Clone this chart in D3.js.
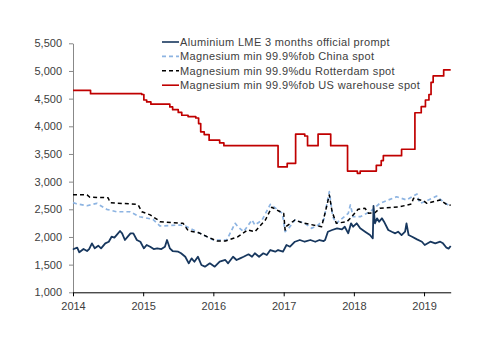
<!DOCTYPE html>
<html>
<head>
<meta charset="utf-8">
<script src="https://cdn.jsdelivr.net/npm/d3@7"></script>
<style>
  body { margin: 0; background: #fff; }
  svg text { font-family: "Liberation Sans", Arial, sans-serif; }
</style>
</head>
<body>
<svg id="chart"></svg>
<script>
// decimal years + values
const aluYears = [2014.00,2014.01,2014.06,2014.09,2014.15,2014.20,2014.23,2014.27,2014.31,2014.36,2014.40,2014.46,2014.51,2014.55,2014.59,2014.63,2014.67,2014.70,2014.74,2014.78,2014.82,2014.86,2014.91,2014.96,2015.01,2015.05,2015.10,2015.15,2015.20,2015.26,2015.31,2015.34,2015.38,2015.42,2015.50,2015.54,2015.60,2015.65,2015.69,2015.73,2015.78,2015.83,2015.88,2015.95,2016.02,2016.09,2016.17,2016.21,2016.28,2016.33,2016.38,2016.43,2016.50,2016.55,2016.59,2016.65,2016.71,2016.76,2016.81,2016.88,2016.92,2016.99,2017.04,2017.09,2017.16,2017.23,2017.30,2017.38,2017.45,2017.51,2017.57,2017.59,2017.63,2017.69,2017.76,2017.83,2017.87,2017.92,2017.96,2017.99,2018.04,2018.09,2018.16,2018.23,2018.27,2018.28,2018.30,2018.33,2018.36,2018.40,2018.43,2018.49,2018.54,2018.59,2018.63,2018.68,2018.73,2018.75,2018.78,2018.83,2018.90,2018.97,2019.01,2019.09,2019.16,2019.23,2019.27,2019.32,2019.35,2019.38];
const aluValues = [1770,1782,1806,1723,1782,1746,1782,1885,1795,1842,1795,1885,1914,2005,1987,2048,2108,2066,1945,2005,2066,2066,1945,1914,1795,1855,1824,1782,1795,1782,1824,1945,1795,1746,1734,1705,1643,1524,1614,1553,1643,1493,1463,1524,1463,1553,1584,1524,1643,1584,1614,1643,1687,1643,1705,1643,1705,1674,1764,1734,1764,1734,1855,1824,1914,1945,1914,1945,1914,1945,1927,1945,2095,2126,2156,2138,2185,2066,2247,2185,2247,2156,2095,2035,1976,2560,2247,2337,2276,2337,2276,2126,2095,2066,2095,2035,2095,2247,2035,2005,1957,1914,1855,1914,1885,1914,1885,1806,1790,1837];

const chinaYears = [2014.00,2014.05,2014.20,2014.34,2014.48,2014.62,2014.81,2014.95,2015.14,2015.24,2015.52,2015.60,2015.81,2016.00,2016.19,2016.31,2016.35,2016.43,2016.55,2016.59,2016.69,2016.81,2016.92,2016.98,2017.02,2017.07,2017.16,2017.30,2017.40,2017.49,2017.57,2017.65,2017.70,2017.75,2017.92,2017.95,2017.99,2018.09,2018.23,2018.37,2018.61,2018.75,2018.90,2018.94,2019.01,2019.18,2019.27,2019.37];
const chinaValues = [2620,2600,2565,2608,2500,2456,2456,2366,2318,2198,2216,2200,2066,1945,1945,2247,2185,2095,2307,2216,2300,2590,2487,2427,2095,2156,2307,2247,2156,2216,2307,2818,2366,2247,2427,2578,2366,2366,2456,2608,2727,2668,2776,2608,2638,2740,2638,2560];

const rotYears = [2014.00,2014.20,2014.24,2014.50,2014.53,2014.90,2014.93,2014.98,2015.10,2015.14,2015.22,2015.24,2015.50,2015.57,2015.64,2015.78,2015.81,2015.91,2016.05,2016.17,2016.35,2016.49,2016.59,2016.74,2016.83,2016.95,2017.00,2017.02,2017.03,2017.16,2017.26,2017.54,2017.60,2017.65,2017.69,2017.75,2017.90,2017.95,2018.06,2018.16,2018.21,2018.30,2018.37,2018.66,2018.82,2018.85,2018.99,2019.04,2019.23,2019.32,2019.38];
const rotValues = [2764,2760,2717,2710,2620,2590,2578,2456,2400,2366,2300,2276,2250,2247,2114,2080,2066,2005,1927,1927,2005,2126,2095,2307,2537,2456,2427,2126,2185,2307,2258,2185,2487,2760,2456,2247,2276,2337,2500,2518,2427,2438,2518,2547,2596,2698,2655,2608,2668,2590,2572];

const usYears = [2014.00,2014.25,2014.98,2015.01,2015.05,2015.11,2015.38,2015.42,2015.50,2015.55,2015.64,2015.75,2015.79,2015.82,2015.87,2015.94,2016.09,2016.15,2016.92,2017.05,2017.17,2017.30,2017.34,2017.49,2017.67,2017.91,2018.05,2018.09,2018.32,2018.39,2018.42,2018.68,2018.87,2018.96,2019.02,2019.07,2019.10,2019.13,2019.28,2019.38];
const usValues = [4650,4590,4575,4475,4440,4400,4350,4300,4250,4200,4175,4150,4050,3900,3850,3750,3700,3650,3265,3330,3860,3825,3650,3860,3650,3190,3150,3190,3295,3380,3470,3585,4245,4355,4475,4575,4795,4910,5020,5020];

const seriesNames = [
  "Aluminium LME 3 months official prompt",
  "Magnesium min 99.9%fob China spot",
  "Magnesium min 99.9%du Rotterdam spot",
  "Magnesium min 99.9%fob US warehouse spot"
];
const yTicks = [1000,1500,2000,2500,3000,3500,4000,4500,5000,5500];
const xTickYears = [2014,2015,2016,2017,2018,2019];

const W = 500, H = 353;
const margin = {left: 73, right: 450.7, top: 43.3, bottom: 292.3};

function toDate(yr) {
  const y0 = Math.floor(yr);
  const a = new Date(y0, 0, 1), b = new Date(y0 + 1, 0, 1);
  return new Date(+a + (yr - y0) * (b - a));
}

const svg = d3.select('#chart').attr('width', W).attr('height', H);

const xScale = d3.scaleTime()
  .domain([toDate(2014), toDate(2019.38)])
  .range([margin.left, margin.right]);
const yScale = d3.scaleLinear().domain([1000, 5500]).range([margin.bottom, margin.top]);

const series = [
  {years: aluYears, values: aluValues, color: '#17375e', dash: null, width: 1.8, curve: d3.curveLinear},
  {years: chinaYears, values: chinaValues, color: '#8db4e2', dash: '4,3', width: 1.7, curve: d3.curveLinear},
  {years: rotYears, values: rotValues, color: '#000', dash: '4,3', width: 1.5, curve: d3.curveLinear},
  {years: usYears, values: usValues, color: '#c00000', dash: null, width: 1.7, curve: d3.curveStepAfter}
];

// axes
const yAxisG = svg.append('g')
  .attr('transform', `translate(${margin.left},0)`)
  .call(d3.axisLeft(yScale).tickValues(yTicks).tickSize(4).tickSizeOuter(0).tickPadding(7)
    .tickFormat(d3.format(',')));
yAxisG.selectAll('path, line').attr('stroke', '#888');

const xAxisG = svg.append('g')
  .attr('transform', `translate(0,${margin.bottom})`)
  .call(d3.axisBottom(xScale).tickValues(xTickYears.map(toDate)).tickSize(4).tickSizeOuter(0).tickPadding(6)
    .tickFormat(d3.timeFormat('%Y')));
xAxisG.selectAll('path, line').attr('stroke', '#000');

svg.selectAll('.tick text').attr('font-size', 11).attr('fill', '#404040');

// lines, drawn back to front
const order = [3, 1, 2, 0];
order.forEach(i => {
  const s = series[i];
  const pts = s.years.map((yr, j) => [toDate(yr), s.values[j]]);
  const line = d3.line().x(d => xScale(d[0])).y(d => yScale(d[1])).curve(s.curve);
  svg.append('path')
    .datum(pts)
    .attr('fill', 'none')
    .attr('stroke', s.color)
    .attr('stroke-width', s.width)
    .attr('stroke-dasharray', s.dash)
    .attr('stroke-linejoin', 'round')
    .attr('d', line);
});

// legend
const legend = svg.append('g').attr('transform', 'translate(162,42)');
seriesNames.forEach((name, i) => {
  const g = legend.append('g').attr('transform', `translate(0,${i * 14.4})`);
  g.append('line')
    .attr('x1', 0).attr('x2', 17)
    .attr('stroke', series[i].color)
    .attr('stroke-width', 1.6)
    .attr('stroke-dasharray', series[i].dash);
  g.append('text')
    .attr('x', 18).attr('dy', '0.35em')
    .attr('font-size', 11)
    .attr('letter-spacing', 0.35)
    .attr('fill', '#404040')
    .text(name);
});
</script>
</body>
</html>
